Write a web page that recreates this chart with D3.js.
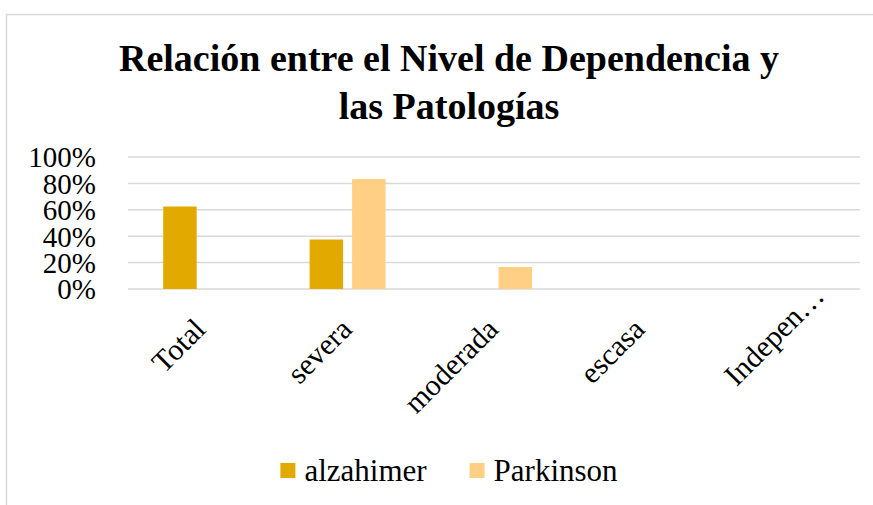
<!DOCTYPE html>
<html>
<head>
<meta charset="utf-8">
<script src="https://cdn.jsdelivr.net/npm/d3@7/dist/d3.min.js"></script>
<style>
  html, body { margin: 0; padding: 0; background: #fff; }
</style>
</head>
<body>
<div id="chart"></div>
<script>
// Datos
const categorias = ['Total', 'severa', 'moderada', 'escasa', 'Indepen…'];
const series = ['alzahimer', 'Parkinson'];
const alzahimer = [0.625, 0.375, 0, 0, 0];
const parkinson = [0, 0.833, 0.167, 0, 0];
const yTicks = [0, 0.2, 0.4, 0.6, 0.8, 1];
const titulo = ['Relación entre el Nivel de Dependencia y', 'las Patologías'];

// Colores y fuente
const COLOR_ALZ = '#E2AA00',
      COLOR_PARK = '#FFD083',
      COLOR_GRID = '#D9D9D9',
      FUENTE = 'Liberation Serif';

const width = 873, height = 505;
const margin = {top: 157, right: 13, bottom: 216, left: 128};

let svg = d3.select('#chart')
    .append('svg')
    .attr('width', width)
    .attr('height', height)
    .attr('font-family', FUENTE);

// Borde del gráfico
svg.append('rect')
    .attr('x', 6.5).attr('y', 14.5)
    .attr('width', 900).attr('height', 520)
    .attr('fill', 'none')
    .attr('stroke', COLOR_GRID)
    .attr('stroke-width', 1.5);

// Título
svg.selectAll('.titulo')
    .data(titulo)
    .enter()
    .append('text')
    .attr('class', 'titulo')
    .attr('font-family', FUENTE)
    .style('font-family', FUENTE)
    .attr('font-size', 38)
    .attr('font-weight', 'bold')
    .attr('text-anchor', 'middle')
    .attr('x', 449)
    .attr('y', function(d, i) { return 71 + i * 48; })
    .text(function(d) { return d; });

let x0 = d3.scaleBand()
    .domain(categorias)
    .range([margin.left, width - margin.right])
    .paddingInner(0.481)
    .paddingOuter(0.2405);

let x1 = d3.scaleBand()
    .domain(series)
    .range([0, x0.bandwidth()])
    .paddingInner(0.212);

let y = d3.scaleLinear()
    .domain([0, 1])
    .range([height - margin.bottom, margin.top]);

// Rejilla
svg.append('g')
    .selectAll('line')
    .data(yTicks)
    .enter()
    .append('line')
    .attr('x1', margin.left)
    .attr('x2', width - margin.right)
    .attr('y1', function(d) { return y(d); })
    .attr('y2', function(d) { return y(d); })
    .attr('stroke', COLOR_GRID)
    .attr('stroke-width', 1.5);

// Eje Y
let yAxis = svg.append('g')
    .attr('transform', 'translate(96,0)')
    .call(d3.axisLeft(y).tickValues(yTicks).tickFormat(d3.format('.0%')).tickSize(0).tickPadding(0));
yAxis.attr('font-family', FUENTE).attr('font-size', 29);
yAxis.select('.domain').remove();
yAxis.selectAll('text')
    .attr('font-family', FUENTE)
    .style('font-family', FUENTE)
    .attr('font-size', 29)
    .attr('fill', '#000')
    .attr('dy', '0.34em');

// Barras
let datos = categorias.map(function(c, i) {
    return {cat: c, valores: [{serie: 'alzahimer', v: alzahimer[i]}, {serie: 'Parkinson', v: parkinson[i]}]};
});

let grupos = svg.append('g')
    .selectAll('g')
    .data(datos)
    .enter()
    .append('g')
    .attr('transform', function(d) { return 'translate(' + x0(d.cat) + ',0)'; });

grupos.selectAll('rect')
    .data(function(d) { return d.valores.filter(function(e) { return e.v > 0; }); })
    .enter()
    .append('rect')
    .attr('x', function(d) { return x1(d.serie); })
    .attr('y', function(d) { return y(d.v); })
    .attr('width', x1.bandwidth())
    .attr('height', function(d) { return y(0) - y(d.v); })
    .attr('fill', function(d) { return d.serie == 'alzahimer' ? COLOR_ALZ : COLOR_PARK; });

// Eje X (etiquetas giradas)
let xAxis = svg.append('g')
    .attr('transform', 'translate(0,' + y(0) + ')')
    .call(d3.axisBottom(x0).tickSize(0).tickPadding(0));
xAxis.attr('font-family', FUENTE).attr('font-size', 30);
xAxis.select('.domain').remove();
xAxis.selectAll('text')
    .attr('font-family', FUENTE)
    .style('font-family', FUENTE)
    .attr('font-size', 30)
    .attr('fill', '#000')
    .attr('y', 0).attr('dy', 0)
    .attr('dx', function(d) { return d.slice(-1) == '…' ? 47 : 0; })
    .attr('text-anchor', 'end')
    .attr('transform', 'translate(6,42)rotate(-45)');

// Leyenda
let items = svg.append('g')
    .selectAll('g')
    .data(series)
    .enter()
    .append('g');
items.append('rect')
    .attr('width', 15).attr('height', 15)
    .attr('y', 463)
    .attr('fill', function(d) { return d == 'alzahimer' ? COLOR_ALZ : COLOR_PARK; });
items.append('text')
    .attr('x', 24)
    .attr('y', 481)
    .attr('font-family', FUENTE)
    .style('font-family', FUENTE)
    .attr('font-size', 31)
    .text(function(d) { return d; });

let pos = 0, posiciones = [];
items.each(function() {
    let w = d3.select(this).select('text').node().getComputedTextLength();
    posiciones.push(pos);
    pos += 24 + w + 43;
});
let inicio = 449 - (pos - 43) / 2;
items.attr('transform', function(d, i) { return 'translate(' + (inicio + posiciones[i]) + ',0)'; });
</script>
</body>
</html>
